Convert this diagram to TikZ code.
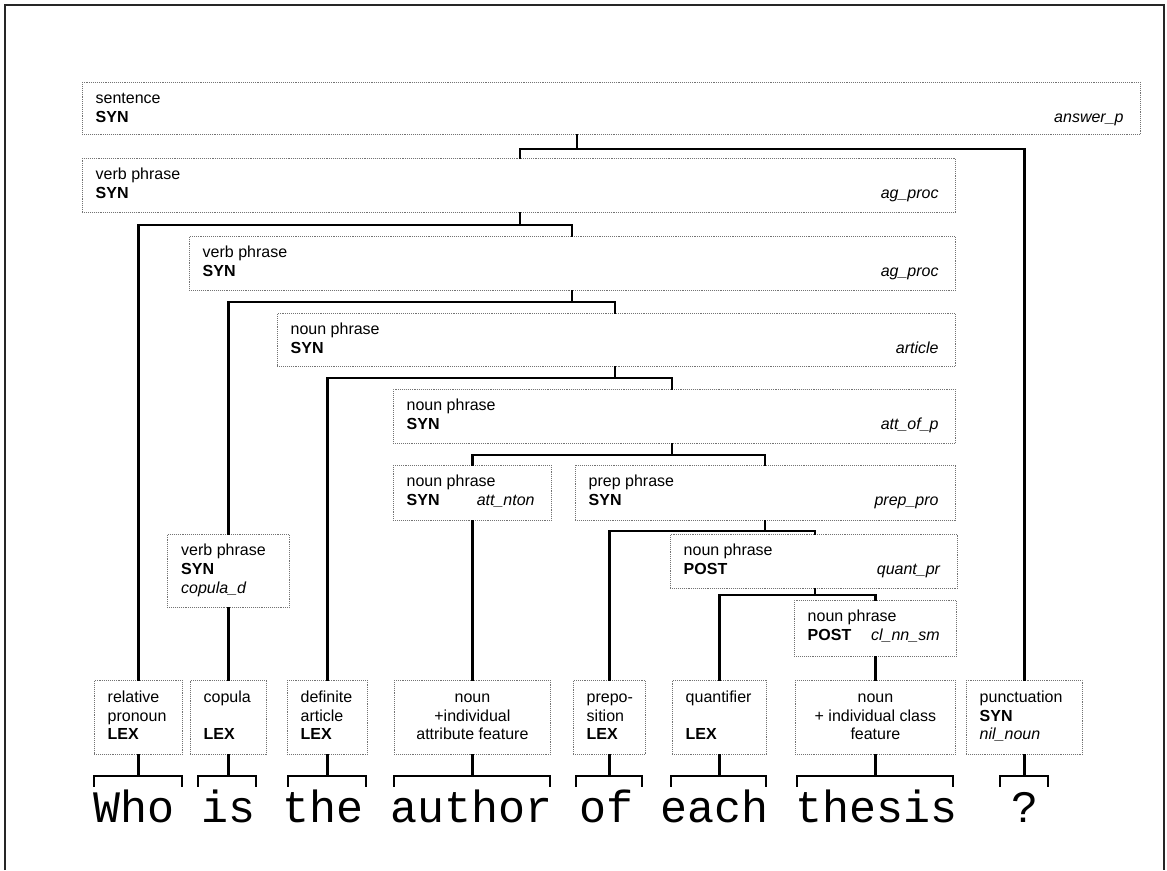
\documentclass[tikz,border=0pt]{standalone}
\usepackage{fontspec}
\setmainfont{Liberation Sans}
\newfontfamily\wordfont{Liberation Mono}
\usetikzlibrary{calc}

\tikzset{
  pbox/.style={draw=black!55, line width=0.8pt, dash pattern=on 0.8pt off 1.1pt,
               rectangle, inner sep=0pt, anchor=north west},
  lab/.style={inner sep=0pt, font=\fontsize{16}{18}\selectfont},
  link/.style={draw=black, line width=2.2pt, line cap=rect, line join=miter},
  frame/.style={draw=black!85, line width=2pt, line join=miter},
  word/.style={inner sep=0pt, anchor=base west, font=\wordfont\fontsize{45}{50}\selectfont},
}

% phrase box: name, x1, y1, x2, y2, category, level, rule
\newcommand\phrasebox[8]{%
  \node[pbox, minimum width={(#4-#2)*1pt}, minimum height={(#5-#3)*1pt}] (#1) at (#2,#3) {};
  \node[lab, anchor=base west] (#1-cat) at ($(#1.north west)+(13.5,21.5)$) {#6};
  \node[lab, anchor=base west] (#1-lvl) at ($(#1.north west)+(13.5,40)$) {\textbf{#7}};
  \node[lab, anchor=base east] (#1-rule) at ($(#1.north east)+(-17,40)$) {\textit{#8}};
}
% lexical box, left-aligned text: name, x1, x2, three lines
\newcommand\lexboxL[6]{%
  \node[pbox, minimum width={(#3-#2)*1pt}, minimum height=74pt] (#1) at (#2,680) {};
  \node[lab, anchor=base west] (#1-a) at ($(#1.north west)+(13.5,22.5)$) {#4};
  \node[lab, anchor=base west] (#1-b) at ($(#1.north west)+(13.5,41)$) {#5};
  \node[lab, anchor=base west] (#1-c) at ($(#1.north west)+(13.5,59.5)$) {#6};
}
% lexical box, centred text
\newcommand\lexboxC[6]{%
  \node[pbox, minimum width={(#3-#2)*1pt}, minimum height=74pt] (#1) at (#2,680) {};
  \node[lab, anchor=base] (#1-a) at ($(#1.north)+(0,22.5)$) {#4};
  \node[lab, anchor=base] (#1-b) at ($(#1.north)+(0,41)$) {#5};
  \node[lab, anchor=base] (#1-c) at ($(#1.north)+(0,59.5)$) {#6};
}
% bracket over a word: box name, left x, right x
\newcommand\wordbracket[3]{%
  \draw[link] (#1.south) -- (#1.south |- brk);
  \draw[link] (#2,786) |- (#3,776) -- (#3,786);
}

\begin{document}
\begin{tikzpicture}[x=1pt,y=-1pt]
\useasboundingbox (0,0) rectangle (1167,870);

% outer frame
\draw[frame] (5,870) -- (5,5) -- (1164,5) -- (1164,870);

% phrase boxes
\phrasebox{s}{82}{82}{1140}{134}{sentence}{SYN}{answer\_p}
\phrasebox{vp1}{82}{158}{955}{212}{verb phrase}{SYN}{ag\_proc}
\phrasebox{vp2}{189}{236}{955}{290}{verb phrase}{SYN}{ag\_proc}
\phrasebox{np1}{277}{313}{955}{366}{noun phrase}{SYN}{article}
\phrasebox{np2}{393}{389}{955}{443}{noun phrase}{SYN}{att\_of\_p}
\phrasebox{np3}{393}{465}{551}{520}{noun phrase}{SYN}{att\_nton}
\phrasebox{pp}{575}{465}{955}{520}{prep phrase}{SYN}{prep\_pro}
\phrasebox{np4}{670}{534}{957}{588}{noun phrase}{POST}{quant\_pr}
\phrasebox{np5}{794}{600}{956}{656}{noun phrase}{POST}{cl\_nn\_sm}

% copula verb phrase
\node[pbox, minimum width=122pt, minimum height=73pt] (vp3) at (167,534) {};
\node[lab, anchor=base west] (vp3-cat) at ($(vp3.north west)+(14,21)$) {verb phrase};
\node[lab, anchor=base west] (vp3-lvl) at ($(vp3.north west)+(14,40)$) {\textbf{SYN}};
\node[lab, anchor=base west] (vp3-rule) at ($(vp3.north west)+(14,59)$) {\textit{copula\_d}};

% lexical boxes
\lexboxL{relpron}{94}{182}{relative}{pronoun}{\textbf{LEX}}
\lexboxL{copula}{190}{266}{copula}{}{\textbf{LEX}}
\lexboxL{defart}{287}{367}{definite}{article}{\textbf{LEX}}
\lexboxC{noun1}{394}{550}{noun}{+individual}{attribute feature}
\lexboxL{prep}{573}{645}{prepo-}{sition}{\textbf{LEX}}
\lexboxL{quant}{672}{766}{quantifier}{}{\textbf{LEX}}
\lexboxC{noun2}{795}{955}{noun}{+ individual class}{feature}
\lexboxL{punct}{966}{1082}{punctuation}{\textbf{SYN}}{\textit{nil\_noun}}

% attachment columns of the wide boxes
\coordinate (sx) at (577,0);
\coordinate (vp1x) at (520,0);
\coordinate (vp2x) at (572,0);
\coordinate (np1x) at (615,0);
\coordinate (np2x) at (672,0);
\coordinate (ppx) at (765,0);
\coordinate (np4x) at (815,0);
\coordinate (brk) at (0,776);

% tree connectors
\draw[link] (s.south -| sx) -- ++(0,14) coordinate (sj);
\draw[link] (vp1.north -| vp1x) |- (sj) -| (punct.north);

\draw[link] (vp1.south -| vp1x) -- ++(0,12) coordinate (vp1j);
\draw[link] (relpron.north) |- (vp1j) -| (vp2.north -| vp2x);

\draw[link] (vp2.south -| vp2x) -- ++(0,11) coordinate (vp2j);
\draw[link] (vp3.north) |- (vp2j) -| (np1.north -| np1x);

\draw[link] (np1.south -| np1x) -- ++(0,11) coordinate (np1j);
\draw[link] (defart.north) |- (np1j) -| (np2.north -| np2x);

\draw[link] (np2.south -| np2x) -- ++(0,11) coordinate (np2j);
\draw[link] (np3.north) |- (np2j) -| (pp.north -| ppx);

\draw[link] (pp.south -| ppx) -- ++(0,10) coordinate (ppj);
\draw[link] (prep.north) |- (ppj) -| (np4.north -| np4x);

\draw[link] (np4.south -| np4x) -- ++(0,6) coordinate (np4j);
\draw[link] (quant.north) |- (np4j) -| (np5.north);

\draw[link] (vp3.south) -- (copula.north);
\draw[link] (np3.south) -- (noun1.north);
\draw[link] (np5.south) -- (noun2.north);

% brackets over the words
\wordbracket{relpron}{94}{182}
\wordbracket{copula}{198}{256}
\wordbracket{defart}{288}{366}
\wordbracket{noun1}{394}{550}
\wordbracket{prep}{576}{642}
\wordbracket{quant}{671}{766}
\wordbracket{noun2}{797}{953}
\wordbracket{punct}{1000}{1048}

% the sentence
\node[word] (w1) at (93,822) {Who};
\node[word] (w2) at (201,822) {is};
\node[word] (w3) at (282,822) {the};
\node[word] (w4) at (390,822) {author};
\node[word] (w5) at (579,822) {of};
\node[word] (w6) at (660,822) {each};
\node[word] (w7) at (795,822) {thesis};
\node[word] (w8) at (1011,822) {?};
\end{tikzpicture}
\end{document}
